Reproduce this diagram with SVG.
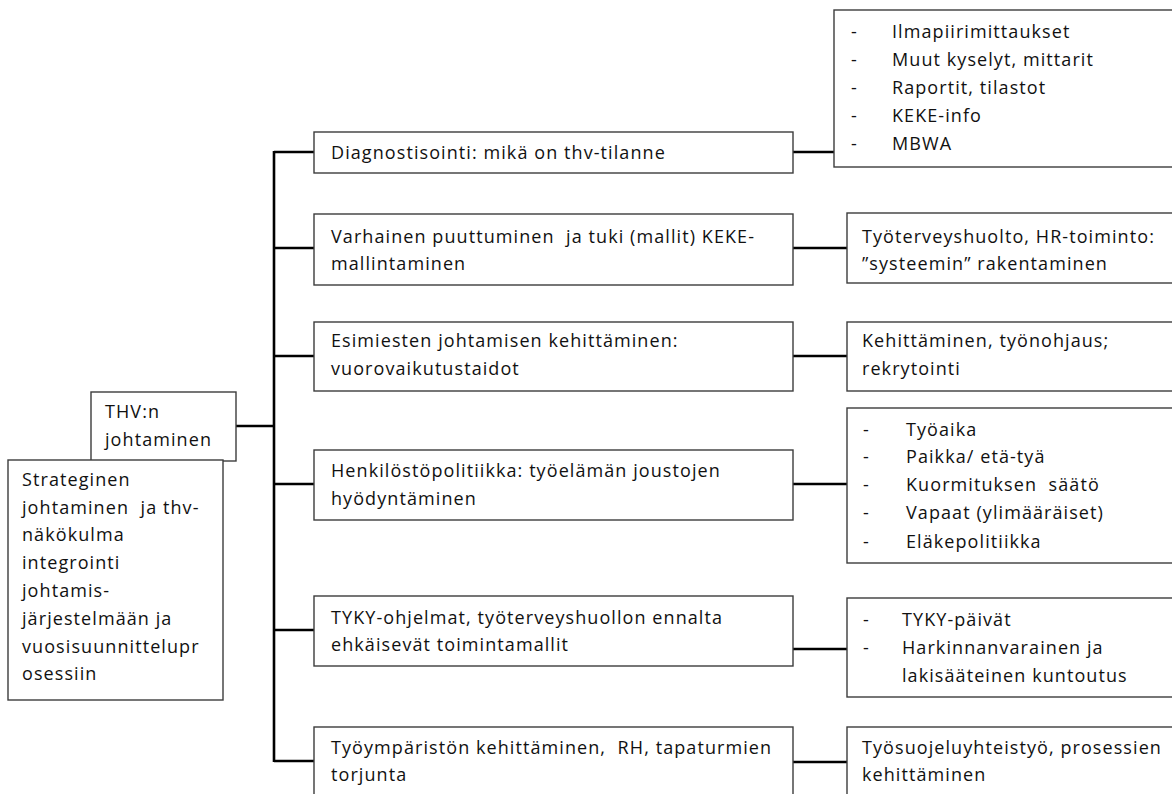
<svg xmlns="http://www.w3.org/2000/svg" width="1172" height="794" viewBox="0 0 1172 794">
  <style>
    .box { fill: #ffffff; stroke: #3c3c3c; stroke-width: 1.4; }
    .wire { fill: none; stroke: #000000; stroke-width: 2.6; }
    text { font-family: "Open Sans", "Liberation Sans", sans-serif; font-size: 18px; fill: #111111; letter-spacing: 1.08px; white-space: pre; }
  </style>
  <rect width="1172" height="794" fill="#ffffff"/>

  <!-- connectors: trunk, branches and leaf links -->
  <g id="connectors" class="wire">
    <line x1="274" y1="151" x2="274" y2="762"/>
    <line x1="236" y1="426" x2="274" y2="426"/>
    <line x1="274" y1="152" x2="314" y2="152"/>
    <line x1="274" y1="248" x2="314" y2="248"/>
    <line x1="274" y1="356" x2="314" y2="356"/>
    <line x1="274" y1="484" x2="314" y2="484"/>
    <line x1="274" y1="630" x2="314" y2="630"/>
    <line x1="274" y1="761" x2="314" y2="761"/>
    <line x1="793" y1="152" x2="834" y2="152"/>
    <line x1="793" y1="248" x2="847" y2="248"/>
    <line x1="793" y1="356" x2="847" y2="356"/>
    <line x1="793" y1="484" x2="847" y2="484"/>
    <line x1="793" y1="649" x2="847" y2="649"/>
    <line x1="793" y1="762" x2="847" y2="762"/>
  </g>

  <!-- root -->
  <g id="thv">
    <rect class="box" x="91" y="392" width="145" height="69"/>
    <text x="105" y="418">THV:n</text>
    <text x="105" y="446">johtaminen</text>
  </g>
  <g id="strateginen">
    <rect class="box" x="8" y="460" width="215" height="240"/>
    <text x="22" y="486">Strateginen</text>
    <text x="22" y="514">johtaminen  ja thv-</text>
    <text x="22" y="541">näkökulma</text>
    <text x="22" y="569">integrointi</text>
    <text x="22" y="597">johtamis-</text>
    <text x="22" y="625">järjestelmään ja</text>
    <text x="22" y="653">vuosisuunnittelupr</text>
    <text x="22" y="680">osessiin</text>
  </g>

  <!-- branch nodes -->
  <g id="diagnostisointi">
    <rect class="box" x="314" y="132" width="479" height="41"/>
    <text x="331" y="159">Diagnostisointi: mikä on thv-tilanne</text>
  </g>
  <g id="varhainen">
    <rect class="box" x="314" y="214" width="479" height="71"/>
    <text x="331" y="243">Varhainen puuttuminen  ja tuki (mallit) KEKE-</text>
    <text x="331" y="270">mallintaminen</text>
  </g>
  <g id="esimiesten">
    <rect class="box" x="314" y="322" width="479" height="69"/>
    <text x="331" y="347">Esimiesten johtamisen kehittäminen:</text>
    <text x="331" y="375">vuorovaikutustaidot</text>
  </g>
  <g id="henkilostopolitiikka">
    <rect class="box" x="314" y="450" width="479" height="70"/>
    <text x="331" y="477">Henkilöstöpolitiikka: työelämän joustojen</text>
    <text x="331" y="505">hyödyntäminen</text>
  </g>
  <g id="tyky">
    <rect class="box" x="314" y="596" width="479" height="70"/>
    <text x="331" y="624">TYKY-ohjelmat, työterveyshuollon ennalta</text>
    <text x="331" y="651">ehkäisevät toimintamallit</text>
  </g>
  <g id="tyoymparisto">
    <rect class="box" x="314" y="727" width="479" height="80"/>
    <text x="331" y="754">Työympäristön kehittäminen,  RH, tapaturmien</text>
    <text x="331" y="781">torjunta</text>
  </g>

  <!-- leaf nodes -->
  <g id="mittaukset">
    <rect class="box" x="834" y="10" width="360" height="157"/>
    <text x="851" y="38">-</text><text x="892" y="38">Ilmapiirimittaukset</text>
    <text x="851" y="66">-</text><text x="892" y="66">Muut kyselyt, mittarit</text>
    <text x="851" y="94">-</text><text x="892" y="94">Raportit, tilastot</text>
    <text x="851" y="122">-</text><text x="892" y="122">KEKE-info</text>
    <text x="851" y="150">-</text><text x="892" y="150">MBWA</text>
  </g>
  <g id="tyoterveyshuolto">
    <rect class="box" x="847" y="213" width="347" height="70"/>
    <text x="862" y="243">Työterveyshuolto, HR-toiminto:</text>
    <text x="862" y="270">”systeemin” rakentaminen</text>
  </g>
  <g id="kehittaminen">
    <rect class="box" x="847" y="322" width="347" height="69"/>
    <text x="862" y="347">Kehittäminen, työnohjaus;</text>
    <text x="862" y="375">rekrytointi</text>
  </g>
  <g id="joustot">
    <rect class="box" x="847" y="408" width="347" height="155"/>
    <text x="863" y="436">-</text><text x="906" y="436">Työaika</text>
    <text x="863" y="463">-</text><text x="906" y="463">Paikka/ etä-tyä</text>
    <text x="863" y="491">-</text><text x="906" y="491">Kuormituksen  säätö</text>
    <text x="863" y="519">-</text><text x="906" y="519">Vapaat (ylimääräiset)</text>
    <text x="863" y="548">-</text><text x="906" y="548">Eläkepolitiikka</text>
  </g>
  <g id="kuntoutus">
    <rect class="box" x="847" y="598" width="347" height="99"/>
    <text x="863" y="626">-</text><text x="902" y="626">TYKY-päivät</text>
    <text x="863" y="654">-</text><text x="902" y="654">Harkinnanvarainen ja</text>
    <text x="902" y="682">lakisääteinen kuntoutus</text>
  </g>
  <g id="tyosuojelu">
    <rect class="box" x="847" y="727" width="347" height="80"/>
    <text x="862" y="754">Työsuojeluyhteistyö, prosessien</text>
    <text x="862" y="781">kehittäminen</text>
  </g>
</svg>
